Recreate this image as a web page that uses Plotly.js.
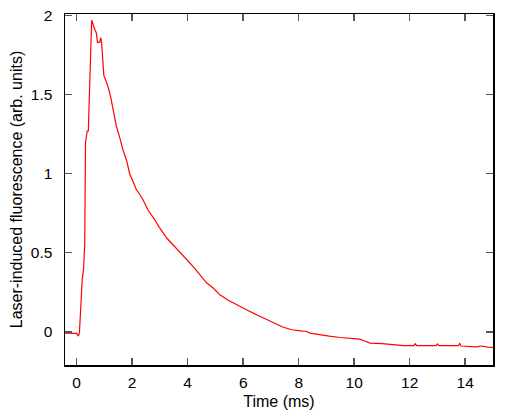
<!DOCTYPE html>
<html>
<head>
<meta charset="utf-8">
<script src="https://cdn.plot.ly/plotly-3.0.1.min.js"></script>
<style>
  html, body { margin: 0; padding: 0; background: #fff; }
  #plot { width: 515px; height: 412px; }
</style>
</head>
<body>
<div id="plot"></div>
<script>
// time in ms
let timeMs = [-0.42, -0.1, 0.0, 0.05, 0.08, 0.1, 0.13, 0.17, 0.2, 0.25, 0.29, 0.32, 0.35, 0.38, 0.42,
  0.46, 0.5, 0.54, 0.58, 0.61, 0.66, 0.71, 0.75, 0.79, 0.83, 0.87, 0.9, 0.94, 0.98, 1.05, 1.13,
  1.22, 1.31, 1.43, 1.55, 1.67, 1.79, 1.91, 2.03, 2.15, 2.27, 2.39, 2.57, 2.7, 2.81, 2.96, 3.11,
  3.26, 3.42, 3.57, 3.72, 3.9, 4.08, 4.26, 4.44, 4.68, 4.92, 5.16, 5.46, 5.76, 6.12, 6.48, 6.84,
  7.08, 7.42, 7.75, 8.0, 8.29, 8.41, 8.77, 9.1, 9.49, 9.85, 10.2, 10.33, 10.57, 11.0, 11.53,
  11.78, 12.15, 12.2, 12.25, 12.95, 13.0, 13.05, 13.75, 13.8, 13.85, 14.2, 14.4, 14.6, 14.8, 15.0]

// fluorescence signal (arb. units)
let signal = [-0.008, -0.008, -0.01, -0.025, -0.02, -0.005, 0.1, 0.32, 0.33, 0.40, 0.55, 1.20, 1.25, 1.27, 1.27,
  1.50, 1.80, 1.97, 1.95, 1.93, 1.91, 1.89, 1.83, 1.83, 1.83, 1.86, 1.83, 1.72, 1.62, 1.59, 1.55,
  1.49, 1.40, 1.30, 1.23, 1.15, 1.09, 1.00, 0.95, 0.90, 0.87, 0.835, 0.77, 0.74, 0.71, 0.665, 0.625,
  0.59, 0.56, 0.53, 0.50, 0.465, 0.435, 0.40, 0.36, 0.31, 0.277, 0.234, 0.20, 0.17, 0.139, 0.108, 0.076,
  0.059, 0.03, 0.013, 0.008, 0.002, -0.008, -0.019, -0.027, -0.036, -0.042, -0.046, -0.055, -0.072, -0.075, -0.082,
  -0.088, -0.088, -0.076, -0.088, -0.088, -0.077, -0.088, -0.088, -0.074, -0.09, -0.092, -0.095, -0.09, -0.097, -0.098]

let xTicks = [0, 2, 4, 6, 8, 10, 12, 14]
let yTicks = [0, 0.5, 1, 1.5, 2]
let yTickText = ['0', '0.5', '1', '1.5', '2']

let trace = {
  x: timeMs,
  y: signal,
  type: 'scatter',
  mode: 'lines',
  line: { color: '#ff0000', width: 1.2 },
  hoverinfo: 'skip'
}

let fontFamily = 'Liberation Sans, Arial, sans-serif'

let axisStyle = {
  showgrid: false,
  zeroline: false,
  showline: true,
  mirror: 'ticks',
  linecolor: '#000',
  linewidth: 1.5,
  ticks: 'inside',
  ticklen: 7,
  tickwidth: 1.5,
  tickcolor: '#555',
  tickfont: { family: fontFamily, size: 15.5, color: '#000' }
}

let layout = {
  width: 515,
  height: 412,
  margin: { l: 65, r: 22, t: 14, b: 47 },
  paper_bgcolor: '#fff',
  plot_bgcolor: '#fff',
  showlegend: false,
  xaxis: Object.assign({}, axisStyle, {
    range: [-0.42, 15.0],
    tickvals: xTicks,
    ticklabelstandoff: 3,
    title: { text: 'Time (ms)', standoff: 5, font: { family: fontFamily, size: 16, color: '#000' } }
  }),
  yaxis: Object.assign({}, axisStyle, {
    range: [-0.21, 2.01],
    tickvals: yTicks,
    ticktext: yTickText,
    ticklabelstandoff: 8,
    title: { text: 'Laser-induced fluorescence (arb. units)', standoff: 4,
      font: { family: fontFamily, size: 16, color: '#000' } }
  })
}

Plotly.newPlot('plot', [trace], layout, { staticPlot: true, displayModeBar: false })
</script>
</body>
</html>
